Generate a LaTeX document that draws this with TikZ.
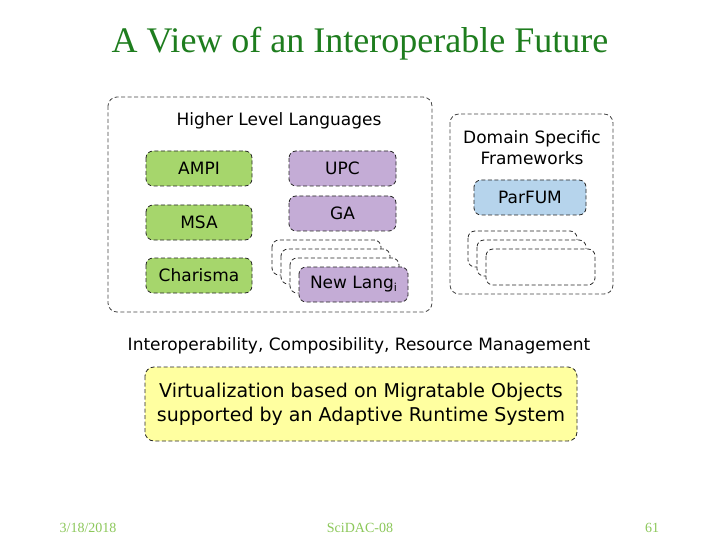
\documentclass[tikz,border=0pt]{standalone}
\usepackage{fontspec}
\setmainfont{Liberation Serif}
\newfontfamily\boxfont{DejaVu Sans}
\definecolor{titlegreen}{RGB}{30,125,30}
\definecolor{footgreen}{RGB}{140,200,90}
\definecolor{langgreen}{RGB}{166,214,108}
\definecolor{langpurple}{RGB}{196,172,214}
\definecolor{fwblue}{RGB}{182,212,236}
\definecolor{rtyellow}{RGB}{255,255,160}
\definecolor{outergrey}{RGB}{70,70,70}
\begin{document}
\begin{tikzpicture}[x=1pt,y=-1pt,
  outerbox/.style={draw=outergrey,dash pattern=on 4pt off 2.5pt,rounded corners=9pt,line width=0.8pt},
  langbox/.style={draw=black!85,dash pattern=on 4pt off 2.5pt,rounded corners=7pt,line width=0.8pt},
  lbl/.style={font=\boxfont\fontsize{17}{20}\selectfont,inner sep=0pt},
  foot/.style={font=\fontsize{14}{16}\selectfont,text=footgreen,inner sep=0pt}]
\useasboundingbox[fill=white] (0,0) rectangle (720,540);
\node[font=\fontsize{36}{40}\selectfont,text=titlegreen,inner sep=0pt] (title) at (360,44) {A View of an Interoperable Future};
% outer boxes
\draw[outerbox] (108,97) rectangle (432,312);
\node[lbl] (hll) at (279,121) {Higher Level Languages};
\draw[outerbox] (450,114) rectangle (613,294);
\node[lbl,align=center,font=\boxfont\fontsize{17}{21}\selectfont] (dsf) at (532,148) {Domain Specific\\Frameworks};
% language boxes
\draw[langbox,fill=langgreen] (146,151) rectangle node[lbl] (ampi) {AMPI} (252,186);
\draw[langbox,fill=langgreen] (146,205) rectangle node[lbl] (msa) {MSA} (252,240);
\draw[langbox,fill=langgreen] (146,258) rectangle node[lbl] (cha) {Charisma} (252,293);
\draw[langbox,fill=langpurple] (289,151) rectangle node[lbl] (upc) {UPC} (396,186);
\draw[langbox,fill=langpurple] (289,196) rectangle node[lbl] (ga) {GA} (396,231);
\draw[langbox,fill=white] (272,240) rectangle (381,275);
\draw[langbox,fill=white] (281,249) rectangle (390,284);
\draw[langbox,fill=white] (290,258) rectangle (399,293);
\draw[langbox,fill=langpurple] (299,267) rectangle node[lbl] (newl) {New Lang\raisebox{-0.25ex}{\fontsize{11}{11}\selectfont i}} (408,302);
% frameworks
\draw[langbox,fill=fwblue] (474,180) rectangle node[lbl] (parfum) {ParFUM} (586,215);
\draw[langbox,fill=white] (468,231) rectangle (577,267);
\draw[langbox,fill=white] (477,240) rectangle (586,276);
\draw[langbox,fill=white] (486,249) rectangle (595,285);
% runtime
\node[lbl] (icr) at (359,346) {Interoperability, Composibility, Resource Management};
\draw[langbox,fill=rtyellow,rounded corners=9pt] (145,367) rectangle node[lbl,align=center,font=\boxfont\fontsize{19}{24}\selectfont] (virt) {Virtualization based on Migratable Objects\\supported by an Adaptive Runtime System} (577,441);
% footer
\node[foot] (date) at (88,528) {3/18/2018};
\node[foot] (conf) at (360,528) {SciDAC-08};
\node[foot] (page) at (652,528) {61};
\end{tikzpicture}
\end{document}
